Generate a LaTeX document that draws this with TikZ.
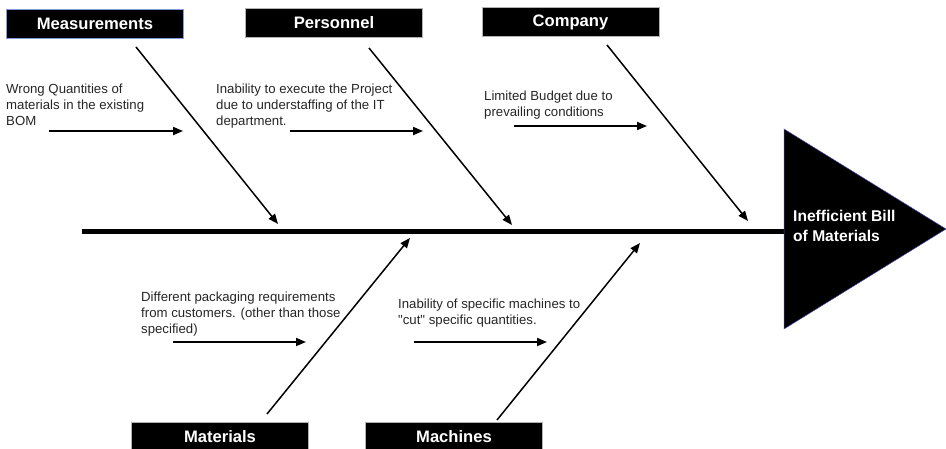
\documentclass[tikz,border=0pt]{standalone}
\usepackage{fontspec}
\setmainfont{Liberation Sans}
\usetikzlibrary{arrows.meta}
\begin{document}
\begin{tikzpicture}[x=1pt,y=-1pt,
  catbox/.style={draw=gray!60, line width=0.8pt, fill=black, text=white,
    font=\fontsize{16.6}{19}\selectfont\bfseries, inner sep=0pt,
    minimum width=177pt, minimum height=29pt},
  cause/.style={anchor=north west, align=left, inner sep=0pt,
    font=\fontsize{13.2}{16}\selectfont, text=black!85},
  bone/.style={line width=1.5pt, -{Triangle[length=10pt,width=8pt]}},
  feed/.style={line width=1.8pt, -{Triangle[length=10pt,width=8pt]}}
]
\useasboundingbox (0,0) rectangle (946,449);
\clip (0,0) rectangle (946,449);

% spine and head
\draw[line width=5pt] (82,232) coordinate (tail) -- (786,232) coordinate (neck);
\fill[black] (784,129) -- (946,229) -- (784,329) -- cycle;
\draw[line width=0.5pt, draw=blue!40!gray] (784,129) -- (946,229) -- (784,329) -- cycle;
\node[anchor=north west, align=left, inner sep=0pt, text=white,
      font=\fontsize{15.6}{20}\selectfont\bfseries] (effect) at (793,210)
      {Inefficient Bill\\of Materials};

% category boxes
\node[catbox, draw=cyan!40!blue!50] (meas) at (95,23.5) {Measurements};
\node[catbox] (pers) at (334,22.5) {Personnel};
\node[catbox] (comp) at (570.5,22) {Company};
\node[catbox] (mat) at (220,436.5) {Materials};
\node[catbox] (mach) at (454,436.5) {Machines};

% main bones
\coordinate (m1) at (136,47);  \coordinate (m2) at (278,224);
\coordinate (p1) at (369,48);  \coordinate (p2) at (512,225);
\coordinate (c1) at (607,45);  \coordinate (c2) at (748,221);
\coordinate (a1) at (267,414); \coordinate (a2) at (410,238);
\coordinate (h1) at (497,420); \coordinate (h2) at (640,243);
\draw[bone] (m1) -- (m2);
\draw[bone] (p1) -- (p2);
\draw[bone] (c1) -- (c2);
\draw[bone] (a1) -- (a2);
\draw[bone] (h1) -- (h2);

% causes
\node[cause] (tmeas) at (6,84) {Wrong Quantities of\\materials in the existing\\BOM};
\node[cause] (tpers) at (216,84) {Inability to execute the Project\\due to understaffing of the IT\\department.};
\node[cause] (tcomp) at (484,91) {Limited Budget due to\\prevailing conditions};
\node[cause] (tmat) at (141,292) {Different packaging requirements\\from customers. (other than those\\specified)};
\node[cause] (tmach) at (398,299) {Inability of specific machines to\\\textquotedbl cut\textquotedbl{} specific quantities.};

\coordinate (f1a) at (49,131);  \coordinate (f1b) at (183,131);
\coordinate (f2a) at (290,131); \coordinate (f2b) at (423,131);
\coordinate (f3a) at (514,126); \coordinate (f3b) at (647,126);
\coordinate (f4a) at (173,342); \coordinate (f4b) at (306,342);
\coordinate (f5a) at (414,342); \coordinate (f5b) at (547,342);
\draw[feed] (f1a) -- (f1b);
\draw[feed] (f2a) -- (f2b);
\draw[feed] (f3a) -- (f3b);
\draw[feed] (f4a) -- (f4b);
\draw[feed] (f5a) -- (f5b);
\end{tikzpicture}
\end{document}
